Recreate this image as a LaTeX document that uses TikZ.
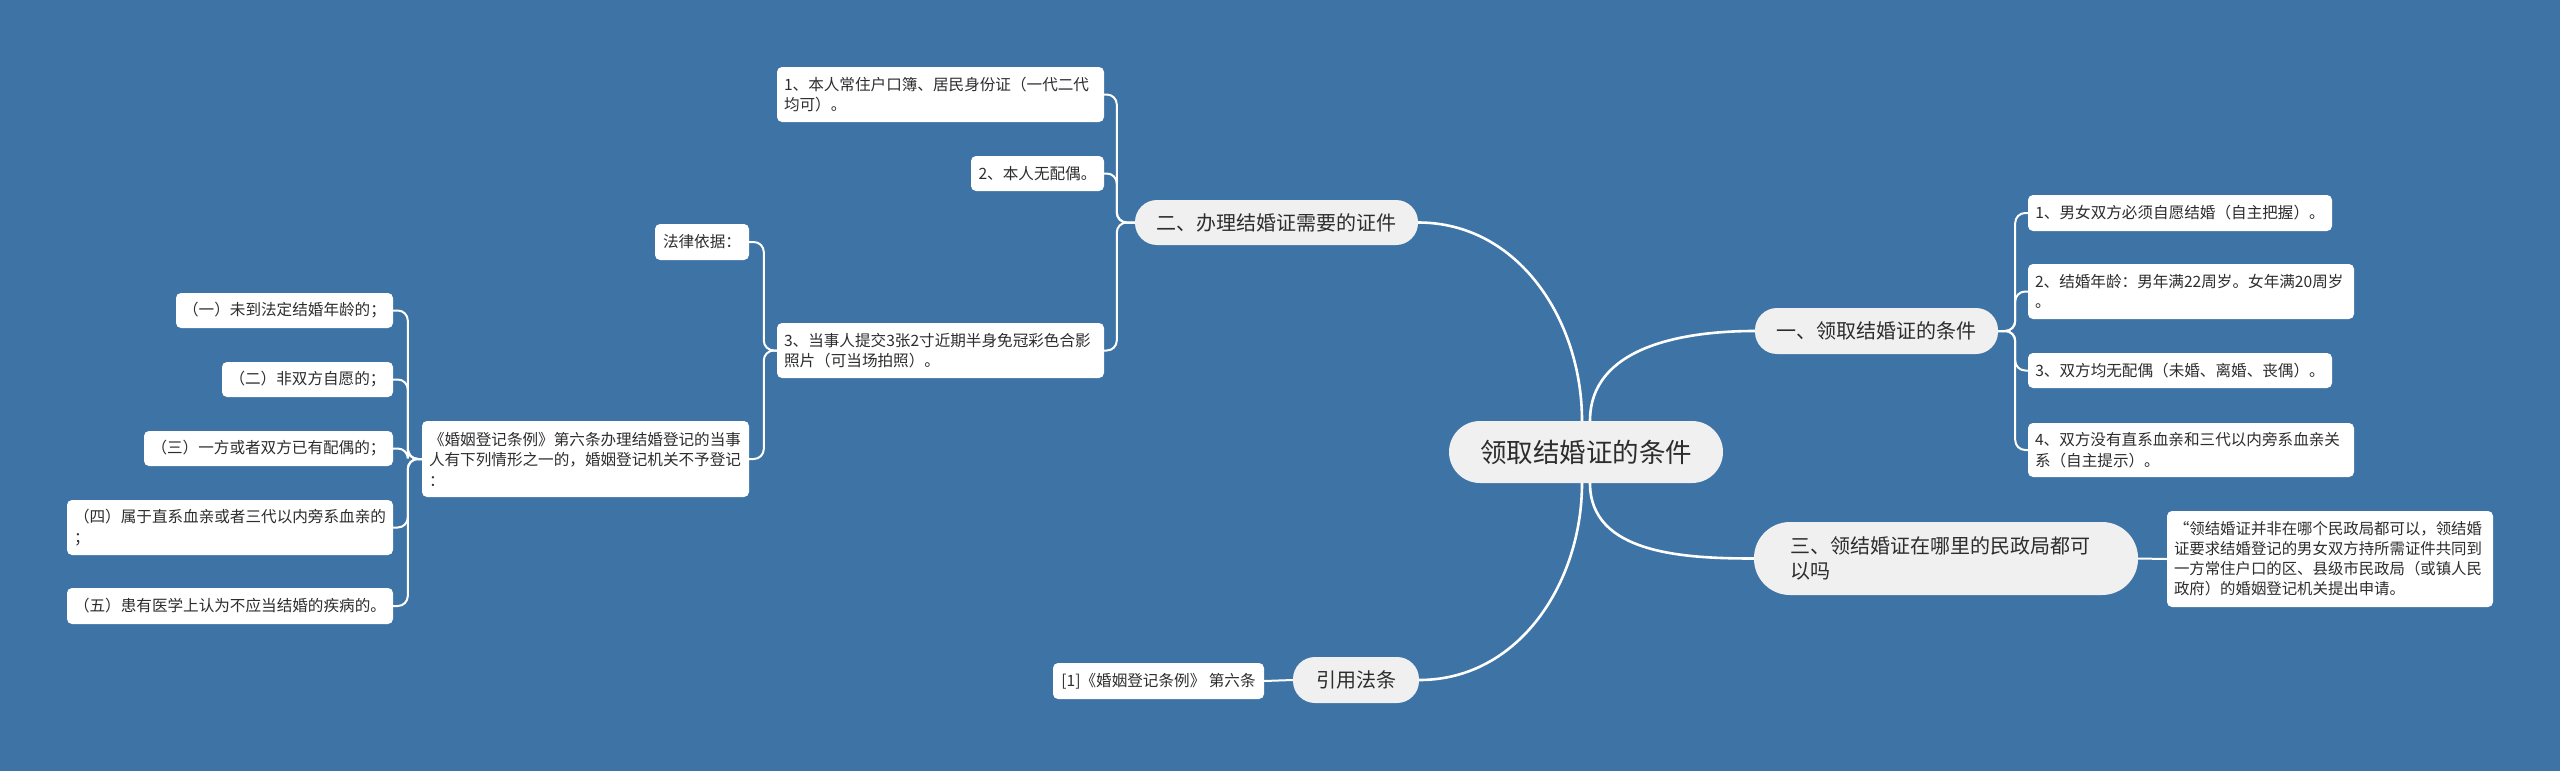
\documentclass[tikz,border=0pt]{standalone}
\usepackage{fontspec}
\setmainfont{Noto Sans CJK SC}
\definecolor{bg}{RGB}{62,115,166}
\definecolor{pill}{RGB}{240,240,240}
\definecolor{txt}{RGB}{45,45,45}
\tikzset{
  leaf/.style={fill=white, rounded corners=5pt, inner xsep=7pt, inner ysep=0pt, text=txt, font=\fontsize{15.6}{20.5}\selectfont, align=left},
  pillnode/.style={fill=pill, rounded corners=22pt, inner xsep=0pt, inner ysep=0pt, text=txt, font=\fontsize{20}{25}\selectfont, align=center},
  trunk/.style={draw=white, line width=2.6pt},
  twig/.style={draw=white, line width=2pt, rounded corners=10pt},
}
\begin{document}
\begin{tikzpicture}[x=1pt,y=-1pt]
\fill[bg] (0,0) rectangle (2560,771);
\useasboundingbox (0,0) rectangle (2560,771);

% root
\node[pillnode, rounded corners=31pt, font=\fontsize{26.5}{30}\selectfont, minimum width=274pt, minimum height=62pt] (root) at (1586,452) {领取结婚证的条件};

% main branches
\node[pillnode, minimum width=283pt, minimum height=45pt] (b2) at (1276.5,222.5) {二、办理结婚证需要的证件};
\node[pillnode, minimum width=243pt, minimum height=46pt] (b1) at (1876.5,331) {一、领取结婚证的条件};
\node[pillnode, rounded corners=36pt, align=left, text width=312pt, inner xsep=36pt, minimum height=73pt] (b3) at (1946,558.5) {三、领结婚证在哪里的民政局都可\\以吗};
\node[pillnode, minimum width=126pt, minimum height=46pt] (b4) at (1356,680) {引用法条};

% branch 二
\node[leaf, text width=313pt, minimum height=55pt] (a1) at (940.5,94.5) {1、本人常住户口簿、居民身份证（一代二代\\均可）。};
\node[leaf, minimum width=133pt, minimum height=35pt] (a2) at (1037.5,173.5) {2、本人无配偶。};
\node[leaf, text width=313pt, minimum height=55pt] (a3) at (940.5,350.5) {3、当事人提交3张2寸近期半身免冠彩色合影\\照片（可当场拍照）。};
\node[leaf, minimum width=94pt, minimum height=36pt] (law) at (702,242) {法律依据：};
\node[leaf, text width=313pt, minimum height=76pt] (m) at (585.5,459) {《婚姻登记条例》第六条办理结婚登记的当事\\人有下列情形之一的，婚姻登记机关不予登记\\：};
\node[leaf, minimum width=217pt, minimum height=35pt] (l1) at (284.5,310.5) {（一）未到法定结婚年龄的；};
\node[leaf, minimum width=171pt, minimum height=35pt] (l2) at (307.5,379.5) {（二）非双方自愿的；};
\node[leaf, minimum width=249pt, minimum height=35pt] (l3) at (268.5,448.5) {（三）一方或者双方已有配偶的；};
\node[leaf, text width=312pt, minimum height=55pt] (l4) at (230,527.5) {（四）属于直系血亲或者三代以内旁系血亲的\\；};
\node[leaf, minimum width=326pt, minimum height=36pt] (l5) at (230,606) {（五）患有医学上认为不应当结婚的疾病的。};

% branch 一
\node[leaf, minimum width=304pt, minimum height=36pt] (r1) at (2180,213) {1、男女双方必须自愿结婚（自主把握）。};
\node[leaf, text width=312pt, minimum height=55pt] (r2) at (2191,291.5) {2、结婚年龄：男年满22周岁。女年满20周岁\\。};
\node[leaf, minimum width=304pt, minimum height=35pt] (r3) at (2180,370.5) {3、双方均无配偶（未婚、离婚、丧偶）。};
\node[leaf, text width=312pt, minimum height=54pt] (r4) at (2191,450) {4、双方没有直系血亲和三代以内旁系血亲关\\系（自主提示）。};

% branch 三
\node[leaf, font=\fontsize{15.4}{20}\selectfont, text width=312pt, minimum height=96pt] (t) at (2330,559) {“领结婚证并非在哪个民政局都可以，领结婚\\证要求结婚登记的男女双方持所需证件共同到\\一方常住户口的区、县级市民政局（或镇人民\\政府）的婚姻登记机关提出申请。};

% branch 引用法条
\node[leaf, minimum width=211pt, minimum height=36pt] (ref) at (1158.5,681) {[1]《婚姻登记条例》 第六条};

% trunk connectors
\draw[trunk] ([xshift=-4pt]root.north) to[out=90,in=0] (b2.east);
\draw[trunk] ([xshift=4pt]root.north) to[out=90,in=180] (b1.west);
\draw[trunk] ([xshift=4pt]root.south) to[out=-90,in=180] (b3.west);
\draw[trunk] ([xshift=-4pt]root.south) to[out=-90,in=0] (b4.east);

% twig connectors
\foreach \c in {a1,a2,a3}{\draw[twig] (b2.west) -- ++(-18,0) |- (\c.east);}
\foreach \c in {law,m}{\draw[twig] (a3.west) -- ++(-13,0) |- (\c.east);}
\foreach \c in {l1,l2,l3,l4,l5}{\draw[twig] (m.west) -- ++(-14,0) |- (\c.east);}
\foreach \c in {r1,r2,r3,r4}{\draw[twig] (b1.east) -- ++(17,0) |- (\c.west);}
\draw[twig] (b3.east) -- (t.west);
\draw[twig] (b4.west) -- (ref.east);
\end{tikzpicture}
\end{document}
